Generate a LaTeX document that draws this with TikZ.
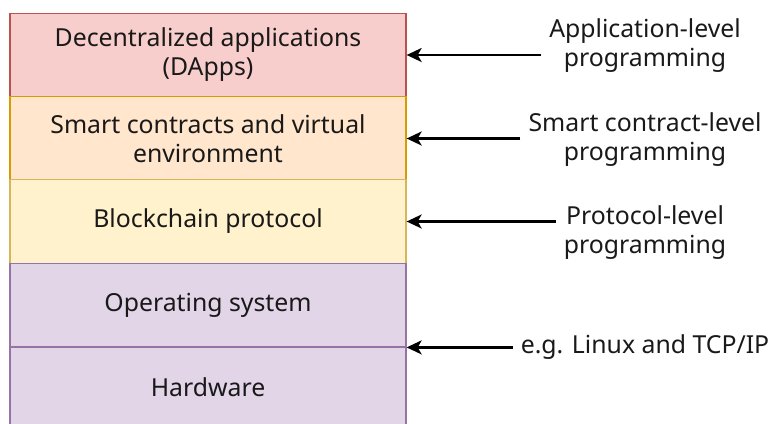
\documentclass[tikz,border=0pt]{standalone}
\usepackage{fontspec}
\setmainfont{Noto Sans}
\usetikzlibrary{arrows.meta}
\definecolor{redfill}{HTML}{F8CECC}\definecolor{redline}{HTML}{B85450}
\definecolor{orfill}{HTML}{FFE6CC}\definecolor{orline}{HTML}{D79B00}
\definecolor{yefill}{HTML}{FFF2CC}\definecolor{yeline}{HTML}{D6B656}
\definecolor{pufill}{HTML}{E1D5E7}\definecolor{puline}{HTML}{9673A6}
\tikzset{
  layer/.style={draw, line width=1.3pt, minimum width=396pt, minimum height=83.5pt,
    inner sep=0pt, align=center, font=\fontsize{24.8}{29}\selectfont, text=black!90},
  note/.style={align=center, inner sep=8pt, font=\fontsize{24.8}{29}\selectfont, text=black!90},
  arr/.style={-{Stealth[length=15pt,width=14pt,inset=4pt]}, line width=2.2pt, black}
}
\begin{document}
\begin{tikzpicture}[x=1pt,y=-1pt]
\useasboundingbox (0,0) rectangle (770,423);
\clip (0,0) rectangle (770,423);
% protocol stack
\node[layer, fill=redfill, draw=redline] (dapps) at (208,55) {Decentralized applications\\(DApps)};
\node[layer, fill=orfill, draw=orline] (smart) at (208,138.5) {Smart contracts and virtual\\environment};
\node[layer, fill=yefill, draw=yeline] (proto) at (208,221.5) {Blockchain protocol};
\node[layer, fill=pufill, draw=puline] (os) at (208,305) {Operating system};
\node[layer, fill=pufill, draw=puline, minimum height=80pt] (hw) at (208,387) {Hardware};
% programming levels
\node[note] (app) at (645,46) {Application-level\\programming};
\node[note] (scl) at (645,140) {Smart contract-level\\programming};
\node[note] (pl) at (645,233) {Protocol-level\\programming};
\node[note] (lin) at (645,347) {e.g. Linux and TCP/IP};
\draw[arr] (app.west |- dapps.east) -- (dapps.east);
\draw[arr] (scl.west |- smart.east) -- (smart.east);
\draw[arr] (pl.west |- proto.east) -- (proto.east);
\draw[arr] (lin.west |- os.south east) -- (os.south east);
\end{tikzpicture}
\end{document}
